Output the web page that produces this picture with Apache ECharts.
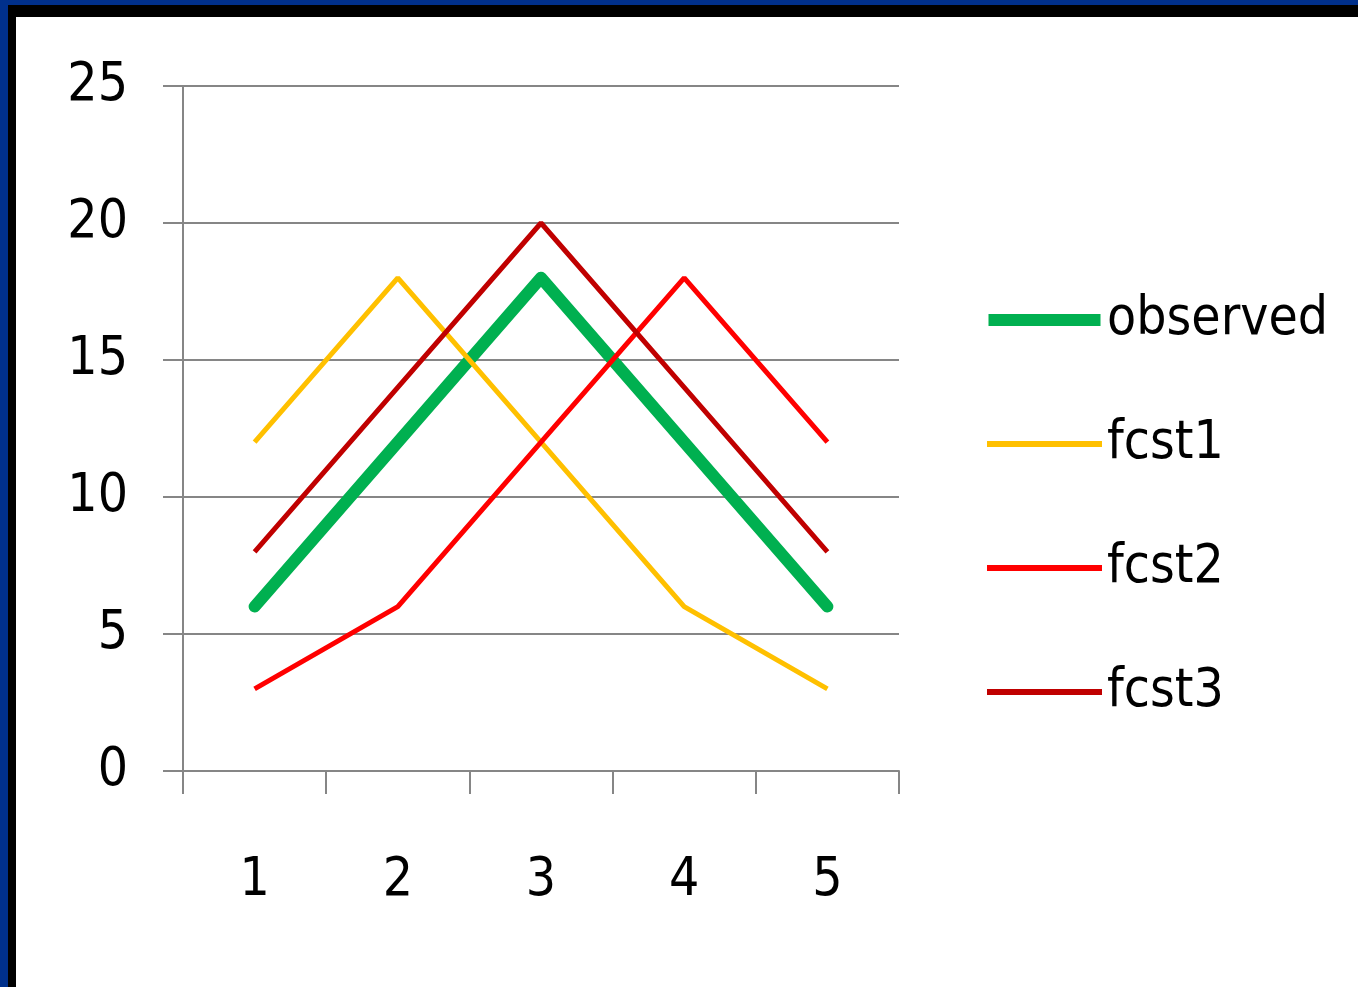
<!DOCTYPE html>
<html>
<head>
<meta charset="utf-8">
<script src="https://cdn.jsdelivr.net/npm/echarts@6/dist/echarts.min.js"></script>
<style>
  html, body { margin: 0; padding: 0; background: #ffffff; }
  #wrap { position: relative; width: 1358px; height: 987px; background: #ffffff; overflow: hidden; }
  #navyTop { position: absolute; left: 0; top: 0; width: 1358px; height: 5px; background: #00308c; }
  #navyLeft { position: absolute; left: 0; top: 0; width: 8px; height: 987px; background: #00308c; }
  #blackTop { position: absolute; left: 8px; top: 5px; width: 1350px; height: 12px; background: #000000; }
  #blackLeft { position: absolute; left: 8px; top: 5px; width: 8px; height: 982px; background: #000000; }
  #chart { position: absolute; left: 0; top: 0; width: 1358px; height: 987px; }
</style>
</head>
<body>
<div id="wrap">
  <div id="chart"></div>
  <div id="navyTop"></div>
  <div id="navyLeft"></div>
  <div id="blackTop"></div>
  <div id="blackLeft"></div>
</div>
<script>
const categories = ['1', '2', '3', '4', '5'];
const observed = [6, 12, 18, 12, 6];
const fcst1 = [12, 18, 12, 6, 3];
const fcst2 = [3, 6, 12, 18, 12];
const fcst3 = [8, 14, 20, 14, 8];

const FONT = "'Liberation Sans Narrow', 'DejaVu Sans Condensed', 'Liberation Sans', sans-serif";
const GRID = '#868686';

const chart = echarts.init(document.getElementById('chart'), null, { renderer: 'canvas' });
chart.setOption({
  animation: false,
  backgroundColor: '#ffffff',
  grid: { left: 183, right: 459, top: 86, bottom: 216, containLabel: false },
  legend: {
    orient: 'vertical',
    left: 982,
    top: 285,
    itemWidth: 115,
    itemHeight: 12,
    itemGap: 64,
    icon: 'rect',
    textStyle: { fontFamily: FONT, fontSize: 53, color: '#000000', lineHeight: 60 },
    data: [
      { name: 'observed', itemStyle: { color: '#00b050' }, icon: 'path://M0,0 L112,0 L112,12 L0,12 Z' },
      { name: 'fcst1', itemStyle: { color: '#ffc000' }, icon: 'path://M0,3 L112,3 L112,9 L0,9 Z' },
      { name: 'fcst2', itemStyle: { color: '#ff0000' }, icon: 'path://M0,3 L112,3 L112,9 L0,9 Z' },
      { name: 'fcst3', itemStyle: { color: '#c00000' }, icon: 'path://M0,3 L112,3 L112,9 L0,9 Z' }
    ]
  },
  xAxis: {
    type: 'category',
    data: categories,
    boundaryGap: true,
    axisLine: { show: true, lineStyle: { color: GRID, width: 2 } },
    axisTick: { show: true, length: 23, lineStyle: { color: GRID, width: 2 } },
    axisLabel: { fontFamily: FONT, fontSize: 53, color: '#000000', margin: 84 },
    splitLine: { show: false }
  },
  yAxis: {
    type: 'value',
    min: 0,
    max: 25,
    interval: 5,
    axisLine: { show: true, lineStyle: { color: GRID, width: 2 } },
    axisTick: { show: true, length: 20, lineStyle: { color: GRID, width: 2 } },
    axisLabel: { fontFamily: FONT, fontSize: 53, color: '#000000', margin: 55 },
    splitLine: { show: true, lineStyle: { color: GRID, width: 2 } }
  },
  series: [
    { name: 'observed', type: 'line', data: observed, symbol: 'none', z: 3,
      lineStyle: { color: '#00b050', width: 12, cap: 'round', join: 'round' }, itemStyle: { color: '#00b050' } },
    { name: 'fcst1', type: 'line', data: fcst1, symbol: 'none', z: 4,
      lineStyle: { color: '#ffc000', width: 5 }, itemStyle: { color: '#ffc000' } },
    { name: 'fcst2', type: 'line', data: fcst2, symbol: 'none', z: 5,
      lineStyle: { color: '#ff0000', width: 5 }, itemStyle: { color: '#ff0000' } },
    { name: 'fcst3', type: 'line', data: fcst3, symbol: 'none', z: 6,
      lineStyle: { color: '#c00000', width: 5 }, itemStyle: { color: '#c00000' } }
  ]
});
</script>
</body>
</html>
